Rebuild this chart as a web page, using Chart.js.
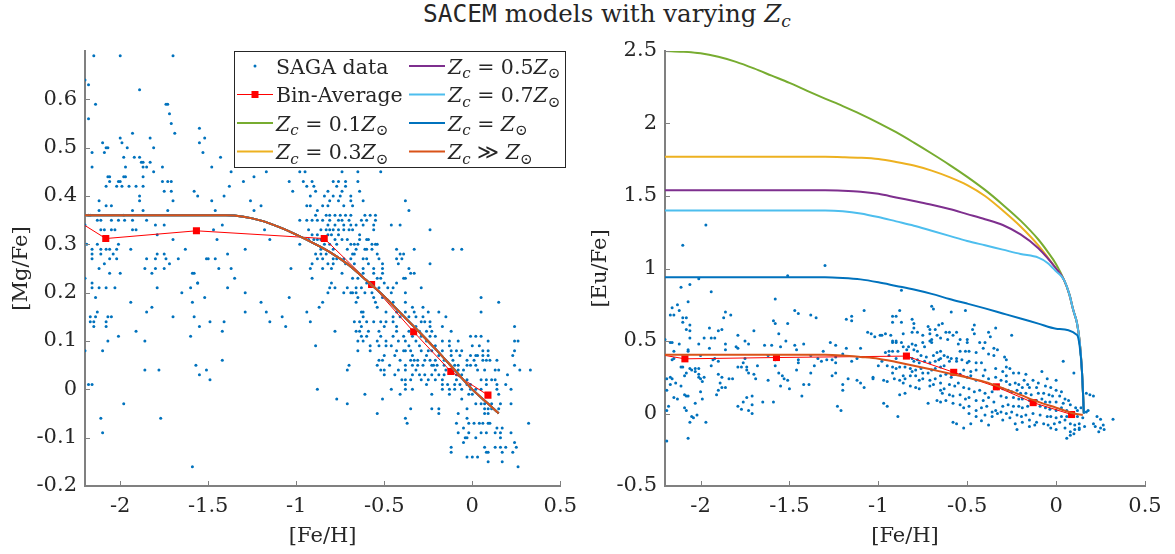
<!DOCTYPE html>
<html>
<head>
<meta charset="utf-8">
<script src="https://cdn.jsdelivr.net/npm/chart.js@4.4.0/dist/chart.umd.min.js"></script>
<style>
  html, body { margin: 0; padding: 0; background: #fff; }
  #wrap { position: relative; width: 1175px; height: 554px; overflow: hidden; }
  #mg { position: absolute; left: 0; top: 0; }
  #eu { position: absolute; left: 585px; top: 0; }
  #title { position: absolute; top: -1px; left: 607px; transform: translateX(-50%); white-space: nowrap;
           font: 24.5px 'DejaVu Serif', 'Liberation Serif', serif; color: #262626; line-height: 30px; }
  #title .tt { font-family: 'DejaVu Sans Mono', 'Liberation Mono', monospace; font-size: 24.5px; }
  #title sub { font-size: 17px; line-height: 0; vertical-align: -5px; }
</style>
</head>
<body>
<div id="wrap">
  <div id="title"><span class="tt">SACEM</span> models with varying <i>Z<sub>c</sub></i></div>
  <canvas id="mg" width="585" height="554"></canvas>
  <canvas id="eu" width="590" height="554"></canvas>
</div>
<script>
/* ---------- data ---------- */
const feTicks = [-2, -1.5, -1, -0.5, 0, 0.5];
const mgTicks = [-0.2, -0.1, 0, 0.1, 0.2, 0.3, 0.4, 0.5, 0.6];
const euTicks = [-0.5, 0, 0.5, 1, 1.5, 2, 2.5];

// SAGA stars, [Mg/Fe] panel: metal-poor side as [Fe/H, Mg/Fe] pairs
const mgSparse = [
  [-2.15,.69],[-2.0,.69],[-1.70,.69],[-2.20,.64],[-2.18,.63],[-2.18,.56],[-2.14,.59],[-1.89,.62],[-1.74,.59],[-1.73,.59],
  [-1.72,.57],[-1.71,.55],[-1.69,.53],[-2.16,.49],[-2.16,.46],[-2.10,.51],[-2.09,.49],[-2.08,.50],[-2.07,.50],[-2.00,.52],
  [-1.99,.51],[-1.96,.50],[-1.98,.48],[-1.97,.46],[-1.93,.53],[-1.92,.48],[-1.89,.48],[-1.88,.47],[-1.87,.47],[-1.85,.46],
  [-1.87,.46],[-1.83,.47],[-1.83,.52],[-1.81,.50],[-1.81,.45],[-1.76,.46],[-1.55,.54],[-1.52,.52],[-1.55,.51],[-1.53,.49],
  [-1.43,.48],[-1.48,.46],[-1.37,.45],[-1.17,.45],
  [-2.12,.39],[-2.08,.38],[-2.05,.38],[-2.08,.42],[-2.06,.43],[-2.06,.44],[-2.07,.44],[-2.01,.43],[-2.00,.43],[-1.98,.44],
  [-1.97,.44],[-2.02,.42],[-1.99,.42],[-1.95,.42],[-1.91,.42],[-1.89,.40],[-1.89,.39],[-1.87,.42],[-1.87,.44],[-1.93,.37],
  [-1.87,.37],[-1.76,.43],[-1.73,.43],[-1.71,.41],[-1.75,.41],[-1.71,.43],[-1.70,.39],[-1.73,.37],[-1.58,.41],[-1.56,.40],
  [-1.48,.39],[-1.46,.37],[-1.41,.40],[-1.38,.42],[-1.30,.43],[-1.26,.39],[-1.24,.44],[-1.20,.38],[-1.24,.37],[-1.04,.43],
  [-1.02,.41],
  [-2.17,.36],[-2.12,.37],[-2.13,.35],[-2.11,.35],[-2.11,.33],[-2.09,.33],[-2.05,.35],[-2.05,.33],[-2.03,.33],[-2.01,.35],
  [-1.98,.36],[-1.975,.35],[-1.93,.35],[-1.93,.33],[-1.85,.35],[-1.91,.33],[-1.80,.34],[-1.79,.32],[-1.75,.34],[-1.70,.31],
  [-1.63,.29],[-1.47,.33],[-1.45,.31],[-1.42,.34],[-1.29,.29],[-1.18,.33],[-1.15,.31],
  [-2.19,.30],[-2.16,.29],[-2.16,.28],[-2.16,.27],[-2.13,.30],[-2.11,.29],[-2.11,.28],[-2.08,.29],[-2.09,.26],[-2.06,.29],
  [-2.04,.28],[-2.06,.27],[-2.02,.29],[-2.01,.30],[-2.02,.27],[-2.06,.24],[-2.12,.25],[-2.00,.24],[-1.94,.29],[-1.86,.25],
  [-1.85,.27],[-1.82,.24],[-1.80,.27],[-1.79,.28],[-1.75,.28],[-1.74,.27],[-1.72,.26],[-1.75,.25],[-1.80,.25],[-1.67,.27],
  [-1.59,.24],[-1.58,.24],[-1.56,.22],[-1.51,.27],[-1.50,.27],[-1.46,.27],[-1.44,.25],[-1.39,.28],[-1.37,.25],[-1.35,.23],
  [-1.39,.21],[-1.29,.20],[-1.03,.25],[-2.20,.34],[-2.18,.36],
  [-2.20,.23],[-2.16,.22],[-2.16,.21],[-2.14,.19],[-2.12,.21],[-2.08,.21],[-2.03,.21],[-2.17,.15],[-2.15,.14],[-2.14,.15],
  [-2.17,.14],[-2.15,.13],[-2.08,.14],[-2.08,.13],[-2.07,.15],[-2.05,.15],[-2.13,.16],[-2.07,.10],[-2.10,.08],[-2.01,.11],
  [-1.94,.18],[-1.91,.12],[-1.85,.16],[-1.82,.17],[-1.86,.10],[-1.79,.21],[-1.86,.04],[-1.78,.04],[-1.70,.15],[-1.65,.20],
  [-1.60,.21],[-1.59,.18],[-1.58,.15],[-1.55,.13],[-1.56,.22],[-1.52,.19],[-1.49,.14],[-1.41,.14],[-1.42,.12],[-1.60,.11],
  [-1.57,.05],[-1.55,.03],[-1.51,.04],[-1.49,.02],[-1.42,.06],[-2.18,.01],[-2.16,.01],[-2.20,.08],[-2.11,-.06],[-2.10,-.09],
  [-1.98,-.03],[-1.77,-.06],[-1.59,-.16],[-1.20,.18],[-1.15,.14],[-1.17,.16],[-1.08,.15],[-1.06,.13],[-1.29,.16],[-1.04,.19],
  [-0.37,-.07]
];

// SAGA stars, [Mg/Fe] panel: the dense disc part, [Mg/Fe] comes in 0.01 steps -> rows of [Fe/H]
const mgRows = [
  [0.45,[-0.98,-0.95,-0.74,-0.65,-0.52]],
  [0.43,[-0.96,-0.91,-0.79,-0.76,-0.72,-0.65]],
  [0.42,[-0.94,-0.90,-0.77,-0.72]],
  [0.41,[-0.89,-0.82,-0.74,-0.64]],
  [0.40,[-0.92,-0.84,-0.79,-0.75,-0.69]],
  [0.39,[-0.81,-0.76,-0.69,-0.62,-0.38]],
  [0.38,[-0.94,-0.92,-0.85,-0.82,-0.73,-0.68]],
  [0.37,[-0.88,-0.36]],
  [0.36,[-0.89,-0.83,-0.81,-0.78,-0.75,-0.72,-0.69,-0.61,-0.58,-0.55]],
  [0.35,[-0.98,-0.94,-0.91,-0.88,-0.85,-0.81,-0.76,-0.74,-0.70,-0.63,-0.60,-0.55]],
  [0.34,[-0.82,-0.78,-0.73,-0.69,-0.66,-0.62,-0.56,-0.46,-0.41]],
  [0.33,[-0.93,-0.86,-0.83,-0.81,-0.79,-0.76,-0.73,-0.70,-0.68,-0.56,-0.24]],
  [0.32,[-0.91,-0.88,-0.82,-0.80,-0.76,-0.64]],
  [0.31,[-0.93,-0.90,-0.88,-0.86,-0.78,-0.74,-0.71,-0.64,-0.60,-0.59]],
  [0.30,[-0.98,-0.84,-0.81,-0.77,-0.69,-0.67,-0.65,-0.57,-0.55,-0.54]],
  [0.29,[-0.86,-0.79,-0.71,-0.66,-0.61,-0.60,-0.57,-0.43,-0.33,-0.11,-0.06]],
  [0.28,[-0.89,-0.86,-0.83,-0.68,-0.67,-0.54,-0.41,-0.39]],
  [0.27,[-0.88,-0.85,-0.79,-0.77,-0.73,-0.69,-0.62,-0.60,-0.53,-0.43,-0.40]],
  [0.26,[-0.91,-0.82,-0.79,-0.72,-0.67,-0.59,-0.51,-0.42,-0.24]],
  [0.25,[-0.92,-0.85,-0.80,-0.62,-0.56,-0.51,-0.36]],
  [0.24,[-0.74,-0.62,-0.56,-0.51,-0.35,-0.33]],
  [0.23,[-0.91,-0.68,-0.65,-0.54,-0.52,-0.39,-0.38]],
  [0.22,[-0.80,-0.60,-0.56,-0.50,-0.43]],
  [0.21,[-0.81,-0.78,-0.71,-0.66,-0.63,-0.53,-0.48,-0.45,-0.29]],
  [0.20,[-0.82,-0.73,-0.69,-0.68,-0.66,-0.61,-0.57,-0.46,-0.38]],
  [0.19,[-0.65,-0.56,-0.51,0.05]],
  [0.18,[-0.85,-0.66,-0.55,-0.45,-0.38,0.15]],
  [0.17,[-0.87,-0.54,-0.34,-0.28]],
  [0.16,[-0.94,-0.63,-0.62,-0.49,-0.43,-0.38,-0.33,-0.25,-0.19,0.05]],
  [0.15,[-0.62,-0.45,-0.41,-0.36,-0.32,-0.28,-0.15]],
  [0.14,[-0.92,-0.67,-0.64,-0.60,-0.56,-0.52,-0.49,-0.45,-0.29,-0.27,-0.24]],
  [0.13,[-0.63,-0.50,-0.43,-0.32,-0.24,-0.17,0.24]],
  [0.12,[-0.78,-0.66,-0.64,-0.59,-0.53,-0.43,-0.36,-0.30,-0.26,-0.23,-0.12]],
  [0.11,[-0.63,-0.60,-0.52,-0.45,-0.39,-0.34,-0.29,-0.24,-0.21,-0.01,0.02,0.05]],
  [0.10,[-0.65,-0.62,-0.54,-0.49,-0.42,-0.38,-0.32,-0.26,-0.17,-0.13,-0.08,0.09,0.24,0.26]],
  [0.09,[-0.89,-0.58,-0.53,-0.49,-0.46,-0.36,-0.30,-0.21,-0.13,0.0,0.04]],
  [0.08,[-0.65,-0.58,-0.43,-0.39,-0.38,-0.35,-0.29,-0.25,-0.23,-0.17,-0.12,-0.09,-0.06,0.06,0.09,0.24]],
  [0.07,[-0.50,-0.44,-0.34,-0.26,-0.19,-0.12,-0.07,-0.01,0.02,0.03,0.06,0.09,0.23]],
  [0.06,[-0.53,-0.51,-0.41,-0.35,-0.33,-0.31,-0.27,-0.24,-0.21,-0.16,-0.11,-0.03,0.01,0.06,0.08,0.10,0.14]],
  [0.05,[-0.70,-0.54,-0.47,-0.38,-0.34,-0.31,-0.28,-0.23,-0.22,-0.20,-0.16,-0.10,-0.08,-0.03,-0.01,0.02,0.24]],
  [0.04,[-0.71,-0.52,-0.50,-0.42,-0.38,-0.32,-0.21,-0.15,-0.10,-0.08,-0.05,0.03,0.07,0.13,0.15,0.27,0.33]],
  [0.03,[-0.50,-0.44,-0.34,-0.30,-0.27,-0.23,-0.19,-0.16,-0.09,-0.06,0.20]],
  [0.02,[-0.40,-0.38,-0.35,-0.29,-0.25,-0.21,-0.17,-0.09,-0.03,0.05,0.08,0.11,0.13]],
  [0.01,[-0.38,-0.26,-0.17,-0.14,-0.10,-0.07,-0.03,-0.01,0.08,0.14,0.19]],
  [0.00,[-0.88,-0.46,-0.38,-0.34,-0.17,-0.13,-0.10,-0.06,-0.01,0.02,0.05,0.14,0.22]],
  [-0.01,[-0.61,-0.41,-0.23,-0.13,-0.02,0.0,0.15]],
  [-0.02,[-0.77,-0.51,-0.06]],
  [-0.03,[-0.71,0.02,0.05,0.07,0.11,0.16,0.22]],
  [-0.04,[-0.35,-0.23,-0.19,-0.03,0.07,0.09,0.11,0.15]],
  [-0.05,[-0.54,-0.19,-0.08,0.07,0.09]],
  [-0.06,[-0.38,-0.03]],
  [-0.07,[-0.09,-0.02,0.01,0.04,0.06,0.09,0.10,0.32]],
  [-0.08,[-0.05,0.14,0.17]],
  [-0.09,[-0.08,-0.02,0.05,0.08,0.13,0.16,0.22]],
  [-0.10,[-0.04,-0.03,0.02,0.16]],
  [-0.11,[-0.05,0.24]],
  [-0.12,[-0.12,0.07,0.13,0.16,0.19,0.25]],
  [-0.13,[-0.12,0.08,0.09,0.17,0.23]],
  [-0.14,[-0.03,0.0,0.03]],
  [-0.15,[0.09,0.17]],
  [-0.16,[0.26]]
];

// SAGA stars, [Eu/Fe] panel, [Fe/H, Eu/Fe] pairs
const euStars = [
  [-1.30,1.02],[-1.51,0.95],[-2.01,0.93],[-2.06,0.89],[-2.11,0.87],[-1.94,0.84],[-2.07,0.77],[-1.58,0.79],[-2.16,0.73],[-2.13,0.75],
  [-2.12,0.71],[-2.17,0.68],[-2.15,0.68],[-2.10,0.66],[-2.08,0.66],[-2.10,0.63],[-2.06,0.61],[-2.08,0.58],[-2.06,0.57],[-2.06,0.52],
  [-2.20,0.51],[-2.17,0.49],[-2.16,0.49],[-1.95,0.59],[-1.86,0.70],[-1.87,0.66],[-1.83,0.68],[-1.88,0.58],[-1.90,0.57],[-1.92,0.52],
  [-1.94,0.52],[-1.98,0.52],[-2.01,0.48],[-2.12,0.48],[-2.15,0.43],[-2.07,0.44],[-2.07,0.43],[-1.95,0.45],[-1.86,0.48],[-1.86,0.44],
  [-1.80,0.46],[-1.79,0.45],[-1.79,0.54],[-1.75,0.50],[-1.73,0.48],[-1.70,0.57],[-1.64,0.47],[-1.60,0.47],[-1.55,0.46],[-1.52,0.50],
  [-1.59,0.64],[-1.56,0.55],[-1.58,0.62],[-1.51,0.62],[-1.47,0.71],[-1.45,0.69],[-1.47,0.47],[-1.46,0.44],[-1.42,0.48],[-1.38,0.68],
  [-1.35,0.66],[-1.31,0.43],[-1.27,0.49],[-1.24,0.47],[-1.24,0.39],[-1.18,0.65],[-1.15,0.67],[-1.15,0.64],[-1.18,0.45],[-1.10,0.45],
  [-1.08,0.71],[-1.06,0.56],[-1.04,0.55],[-1.02,0.53],[-1.00,0.33],[-1.12,0.38],[-2.10,1.16],[-1.97,1.30],
  [-2.15,0.38],[-2.00,0.40],[-1.90,0.36],[-1.75,0.38],[-1.62,0.40],[-1.45,0.37],[-1.38,0.40],[-1.20,0.41],[-1.15,0.36],
  [-2.21,0.39],[-2.16,0.37],[-2.11,0.32],[-2.19,0.24],[-2.16,0.24],[-2.17,0.25],[-2.17,0.20],[-2.14,0.21],[-2.19,0.16],[-2.21,0.13],
  [-2.21,0.10],[-2.18,0.05],[-2.19,0.02],[-2.19,-0.19],[-2.15,0.11],[-2.13,0.10],[-2.11,0.19],[-2.09,0.26],[-2.08,0.28],[-2.06,0.31],
  [-2.05,0.30],[-2.03,0.31],[-2.10,0.32],[-2.09,0.13],[-2.08,0.12],[-2.09,0.04],[-2.08,0.02],[-2.07,0.12],[-2.03,0.29],[-2.01,0.31],
  [-2.01,0.27],[-2.01,0.25],[-2.00,0.24],[-1.98,0.25],[-1.99,0.22],[-2.03,0.07],[-2.05,-0.02],[-2.06,-0.06],[-2.04,-0.03],[-2.02,-0.01],
  [-2.07,-0.17],[-1.97,-0.06],[-2.00,0.15],[-1.99,0.10],[-1.94,0.33],[-1.93,0.37],[-1.92,0.38],[-1.90,0.27],[-1.89,0.21],[-1.88,0.18],
  [-1.86,0.18],[-1.90,0.16],[-1.91,0.13],[-1.88,0.25],[-1.84,0.24],[-1.82,0.24],[-1.79,0.32],[-1.77,0.32],[-1.76,0.35],[-1.74,0.30],
  [-1.74,0.32],[-1.73,0.28],[-1.70,0.27],[-1.69,0.24],[-1.71,0.12],[-1.71,0.06],[-1.74,0.11],[-1.77,0.03],[-1.79,0.05],[-1.76,0.08],
  [-1.73,0.02],[-1.71,0.00],[-1.68,0.33],[-1.65,0.08],[-1.62,0.23],[-1.59,0.08],[-1.58,0.33],[-1.58,0.37],[-1.56,0.28],[-1.55,0.19],
  [-1.54,0.26],[-1.53,0.24],[-1.51,0.23],[-1.50,0.17],[-1.46,0.30],[-1.45,0.35],[-1.43,0.12],[-1.42,0.20],[-1.39,0.20],[-1.38,0.28],
  [-1.36,0.33],[-1.34,0.38],[-1.32,0.36],[-1.29,0.37],[-1.26,0.37],[-1.24,0.35],[-1.26,0.26],[-1.24,0.28],[-1.20,0.20],[-1.20,0.16],
  [-1.17,0.24],[-1.23,0.05],[-1.21,0.02],[-1.12,0.23],[-1.10,0.21],[-1.08,0.18],[-1.03,0.25],[-1.03,0.24],
  [-0.87,0.85],[-0.70,0.74],[-0.69,0.72],[-0.59,0.70],[-0.51,0.71],[-0.88,0.71],[-0.92,0.67],[-0.90,0.67],[-0.92,0.63],[-0.87,0.63],
  [-0.81,0.65],[-0.80,0.62],[-0.80,0.59],[-0.66,0.61],[-0.68,0.58],[-0.64,0.62],[-0.72,0.60],[-0.71,0.58],[-0.46,0.61],[-0.47,0.58],
  [-0.34,0.59],[-0.78,0.56],[-0.75,0.54],[-0.81,0.56],[-0.71,0.55],[-0.67,0.54],[-0.62,0.56],[-0.60,0.56],[-0.56,0.56],[-0.46,0.55],
  [-0.38,0.56],[-0.37,0.53],[-0.99,0.54],[-0.98,0.54],[-0.96,0.55],[-0.93,0.54],[-0.86,0.55],[-0.92,0.50],[-0.90,0.49],[-0.90,0.50],
  [-0.92,0.49],[-0.87,0.49],[-0.86,0.46],[-0.84,0.44],[-0.83,0.46],[-0.80,0.44],[-0.81,0.48],[-0.75,0.49],[-0.74,0.46],[-0.71,0.50],
  [-0.70,0.49],[-0.70,0.51],[-0.65,0.52],[-0.61,0.51],[-0.58,0.54],[-0.54,0.51],[-0.50,0.51],[-0.50,0.49],[-0.55,0.48],[-0.43,0.49],
  [-0.40,0.49],[-0.35,0.45],[-0.96,0.42],[-0.94,0.40],[-0.94,0.43],[-0.92,0.43],[-0.89,0.43],[-0.90,0.38],[-0.79,0.47],[-0.78,0.43],
  [-0.76,0.40],[-0.73,0.39],[-0.69,0.40],[-0.65,0.43],[-0.67,0.42],[-0.63,0.40],[-0.61,0.39],[-0.59,0.38],[-0.56,0.38],[-0.54,0.43],
  [-0.51,0.43],[-0.49,0.43],[-0.45,0.42],[-0.41,0.45],[-0.38,0.41],[-0.35,0.40],[-0.33,0.44],[-0.81,0.38],[-0.80,0.36],[-0.78,0.37],
  [-0.77,0.35],[-0.74,0.36],[-0.71,0.35],[-0.68,0.36],[-0.66,0.37],[-0.65,0.38],[-0.60,0.36],[-0.56,0.36],[-0.53,0.37],[-0.50,0.35],
  [-0.49,0.36],[-0.45,0.35],[-0.42,0.35],[-0.98,0.36],[-0.95,0.33],[-0.92,0.32],[-0.90,0.31],[-0.88,0.32],[-0.85,0.32],[-0.82,0.31],
  [-0.81,0.29],[-0.79,0.30],[-0.76,0.31],[-0.75,0.28],[-0.72,0.28],[-0.70,0.30],[-0.68,0.31],[-0.65,0.32],[-0.63,0.33],[-0.52,0.30],
  [-0.48,0.29],[-0.45,0.30],[-0.40,0.30],[-0.34,0.31],[-0.97,0.23],[-0.95,0.22],[-0.92,0.28],[-0.91,0.24],[-0.88,0.23],[-0.86,0.26],
  [-0.85,0.24],[-0.82,0.26],[-0.79,0.26],[-0.77,0.23],[-0.75,0.24],[-0.71,0.23],[-0.68,0.24],[-0.65,0.26],[-0.62,0.27],[-0.59,0.25],
  [-0.54,0.27],[-0.50,0.25],[-0.48,0.26],[-0.45,0.23],[-0.41,0.26],[-0.38,0.24],[-0.34,0.25],[-0.86,0.21],[-0.82,0.19],[-0.79,0.18],
  [-0.77,0.17],[-0.71,0.19],[-0.69,0.20],[-0.65,0.21],[-0.63,0.17],[-0.60,0.20],[-0.57,0.19],[-0.55,0.21],[-0.52,0.18],[-0.49,0.17],
  [-0.46,0.15],[-0.43,0.16],[-0.40,0.14],[-0.36,0.15],[-0.33,0.17],[-0.88,0.13],[-0.85,0.14],[-0.65,0.16],[-0.64,0.14],[-0.60,0.13],
  [-0.58,0.12],[-0.54,0.13],[-0.51,0.10],[-0.49,0.11],[-0.45,0.09],[-0.41,0.09],[-0.38,0.11],[-0.35,0.08],[-0.97,0.07],[-0.95,0.05],
  [-0.72,0.07],[-0.67,0.09],[-0.65,0.08],[-0.62,0.09],[-0.58,0.07],[-0.54,0.06],[-0.52,0.04],[-0.49,0.05],[-0.45,0.02],[-0.42,0.04],
  [-0.39,0.05],[-0.36,0.01],[-0.34,0.02],[-0.89,-0.02],[-0.49,0.00],[-0.45,-0.02],[-0.40,-0.01],[-0.36,-0.02],[-0.33,0.00],[-0.58,-0.06],
  [-0.56,-0.07],[-0.52,-0.10],[-0.48,-0.07],[-0.42,-0.05],[-0.38,-0.08],
  [-0.25,0.54],[-0.29,0.39],[-0.28,0.37],[-0.28,0.32],[0.04,0.36],[0.10,0.28],[-0.08,0.29],[-0.30,0.29],[-0.28,0.26],[-0.26,0.31],
  [-0.24,0.28],[-0.21,0.28],[-0.17,0.27],[-0.18,0.23],[-0.13,0.23],[-0.16,0.20],[-0.10,0.21],[-0.05,0.24],[0.00,0.23],[-0.31,0.23],
  [-0.28,0.22],[-0.26,0.20],[-0.23,0.21],[-0.21,0.20],[-0.19,0.18],[-0.15,0.18],[-0.11,0.18],[-0.06,0.19],[-0.03,0.18],[0.00,0.16],
  [0.03,0.15],[-0.30,0.17],[-0.27,0.16],[-0.25,0.15],[-0.22,0.16],[-0.20,0.14],[-0.17,0.14],[-0.14,0.13],[-0.10,0.14],[-0.07,0.14],
  [-0.04,0.13],[-0.02,0.12],[0.02,0.12],[0.05,0.10],[0.07,0.09],[-0.31,0.12],[-0.28,0.11],[-0.24,0.11],[-0.21,0.10],[-0.19,0.10],
  [-0.15,0.09],[-0.11,0.09],[-0.08,0.10],[-0.06,0.08],[-0.035,0.08],[0.00,0.08],[0.04,0.07],[0.08,0.06],[0.11,0.04],[-0.30,0.05],
  [-0.27,0.06],[-0.24,0.05],[-0.21,0.05],[-0.19,0.04],[-0.16,0.05],[-0.09,0.05],[-0.06,0.04],[-0.035,0.03],[0.00,0.02],[0.03,0.04],
  [0.06,0.02],[0.12,0.02],[0.14,0.04],[0.17,0.01],[0.19,0.13],[0.21,0.12],[-0.31,0.01],[-0.28,0.00],[-0.25,0.01],[-0.22,-0.01],
  [-0.195,-0.02],[-0.17,-0.01],[-0.13,0.00],[-0.09,-0.01],[-0.05,-0.02],[-0.03,-0.02],[0.00,-0.03],[0.03,-0.02],[0.06,-0.02],[0.12,-0.02],
  [0.15,-0.03],[0.18,0.02],[-0.30,-0.045],[-0.26,-0.03],[-0.23,-0.07],[-0.19,-0.06],[-0.15,-0.045],[-0.11,-0.06],[-0.07,-0.07],[-0.045,-0.08],
  [-0.01,-0.07],[0.02,-0.06],[0.05,-0.045],[0.08,-0.07],[0.105,-0.08],[0.13,-0.07],[0.16,-0.09],[-0.22,-0.11],[-0.15,-0.09],[-0.12,-0.08],
  [-0.03,-0.10],[0.00,-0.11],[0.05,-0.10],[0.08,-0.125],[0.105,-0.11],[0.13,-0.10],[0.06,-0.17],[0.08,-0.15],[0.10,-0.14],[0.13,-0.11],
  [0.21,-0.07],[0.22,-0.09],[0.24,-0.125],[0.25,-0.10],[0.23,-0.02],[0.25,-0.04],[0.265,-0.08],[0.32,-0.04],[0.27,-0.11],[0.17,0.14]
];

// bin averages (first bin centre sits left of the plotted range)
const binFeMg = [-2.6, -2.082, -1.567, -0.841, -0.572, -0.333, -0.122, 0.089];
const binMg   = [0.43, 0.312, 0.328, 0.312, 0.217, 0.119, 0.037, -0.012];
const binFeEu = [-2.6, -2.088, -1.573, -0.842, -0.576, -0.336, -0.129, 0.087];
const binEu   = [0.484, 0.377, 0.386, 0.396, 0.284, 0.184, 0.075, -0.007];

// [Mg/Fe] model track (identical for every Z_c)
const mgModelFe = [-2.2, -1.4, -1.3, -1.2, -1.1, -1.0, -0.9, -0.8, -0.7, -0.6, -0.5, -0.4, -0.3, -0.2, -0.1, 0.0, 0.1, 0.15];
const mgModel   = [0.36, 0.36, 0.357, 0.349, 0.336, 0.32, 0.302, 0.282, 0.257, 0.225, 0.192, 0.155, 0.118, 0.08, 0.04, 0.0, -0.033, -0.05];

// [Eu/Fe] model tracks
const euTail = [[0.075,0.82],[0.096,0.715],[0.118,0.62],[0.133,0.49],[0.145,0.30],[0.152,0.12],[0.156,0.0]];
const eu01 = [[-2.2,2.50],[-2.1,2.495],[-2.0,2.484],[-1.9,2.46],[-1.8,2.425],[-1.7,2.38],[-1.6,2.33],[-1.5,2.28],[-1.4,2.225],
              [-1.3,2.172],[-1.2,2.12],[-1.1,2.065],[-1.0,2.005],[-0.9,1.94],[-0.8,1.868],[-0.7,1.793],[-0.6,1.715],[-0.5,1.632],
              [-0.4,1.542],[-0.3,1.44],[-0.2,1.33],[-0.1,1.2],[-0.05,1.12],[0.0,1.03],[0.045,0.92]];
const eu03 = [[-2.2,1.77],[-1.3,1.77],[-1.2,1.768],[-1.1,1.764],[-1.0,1.755],[-0.9,1.735],[-0.8,1.71],[-0.7,1.675],[-0.6,1.63],
              [-0.5,1.575],[-0.4,1.50],[-0.3,1.40],[-0.2,1.29],[-0.1,1.16],[0.0,1.0],[0.045,0.92]];
const eu05 = [[-2.2,1.54],[-1.3,1.54],[-1.2,1.537],[-1.1,1.53],[-1.0,1.515],[-0.9,1.49],[-0.8,1.465],[-0.7,1.44],[-0.6,1.41],
              [-0.5,1.375],[-0.4,1.34],[-0.3,1.30],[-0.2,1.235],[-0.1,1.14],[0.0,1.0],[0.045,0.92]];
const eu07 = [[-2.2,1.40],[-1.3,1.40],[-1.2,1.395],[-1.1,1.38],[-1.0,1.355],[-0.9,1.325],[-0.8,1.295],[-0.7,1.26],[-0.6,1.225],
              [-0.5,1.19],[-0.4,1.16],[-0.3,1.13],[-0.2,1.10],[-0.1,1.075],[-0.05,1.04],[0.0,0.98],[0.045,0.92]];
const eu10 = [[-2.2,0.94],[-1.3,0.94],[-1.2,0.935],[-1.1,0.925],[-1.0,0.905],[-0.9,0.88],[-0.8,0.855],[-0.7,0.825],[-0.6,0.79],
              [-0.5,0.758],[-0.4,0.725],[-0.3,0.69],[-0.2,0.655],[-0.1,0.62],[0.0,0.585],[0.118,0.542],[0.133,0.46],
              [0.145,0.30],[0.152,0.12],[0.156,0.0]];
const euInf = [[-2.2,0.405],[-1.3,0.405],[-1.2,0.40],[-1.1,0.39],[-1.0,0.378],[-0.9,0.355],[-0.8,0.33],[-0.7,0.303],[-0.6,0.276],
               [-0.5,0.248],[-0.4,0.218],[-0.3,0.175],[-0.2,0.128],[-0.1,0.08],[0.0,0.04],[0.1,0.0],[0.15,-0.01]];

/* ---------- styling ---------- */
const AXIS = '#808080', INK = '#262626';
const SERIF = "'DejaVu Serif', 'Liberation Serif', serif";
const COL = { saga:'#0072BD', bin:'#FF0000', z01:'#77AC30', z03:'#EDB120', z05:'#7E2F8E',
              z07:'#4DBEEE', z10:'#0072BD', zinf:'#D95319' };

Chart.defaults.font.family = SERIF;
Chart.defaults.font.size = 21;
Chart.defaults.color = INK;

const xy = a => a.map(([x, y]) => ({x, y}));
const zipXY = (xs, ys) => xs.map((x, i) => ({x, y: ys[i]}));

const sagaSet = pts => ({ label:'SAGA data', data: pts, showLine:false, pointRadius:1.5, pointHoverRadius:0,
  pointBackgroundColor: COL.saga, pointBorderWidth:0, order:10 });
const binSet = pts => ({ label:'Bin-Average', data: pts, showLine:true, borderColor: COL.bin, borderWidth:1,
  pointStyle:'rect', pointRadius:5, pointBackgroundColor: COL.bin, pointBorderWidth:0, order:9 });
const modelSet = (label, color, pts, order) => ({ label, data: pts, showLine:true, borderColor: color,
  borderWidth:2, pointRadius:0, cubicInterpolationMode:'monotone', order });

/* MATLAB style: tick marks point into the axes */
const innerTicks = {
  id: 'innerTicks',
  afterDraw(chart) {
    const {ctx, chartArea: a, scales: {x, y}} = chart;
    ctx.save();
    ctx.strokeStyle = AXIS; ctx.lineWidth = 1;
    ctx.beginPath();
    x.ticks.forEach(t => { const p = Math.round(x.getPixelForValue(t.value)) + 0.5;
      ctx.moveTo(p, a.bottom); ctx.lineTo(p, a.bottom - 5); });
    y.ticks.forEach(t => { const p = Math.round(y.getPixelForValue(t.value)) + 0.5;
      ctx.moveTo(a.left, p); ctx.lineTo(a.left + 5, p); });
    ctx.stroke();
    ctx.restore();
  }
};

// draw "Z_c = 0.5 Z_sun" style labels piece by piece
function drawParts(ctx, x, y, parts, size) {
  for (const [txt, st] of parts) {
    const sub = st.includes('s'), it = st.includes('i');
    const fs = sub ? Math.round(size * 0.72) : size;
    ctx.font = `${it ? 'italic ' : ''}${fs}px ${SERIF}`;
    ctx.fillText(txt, x, y + (sub ? size * 0.24 : 0));
    x += ctx.measureText(txt).width;
  }
}
const zc = rest => [['Z','i'], ['c','si'], [rest,'r'], ['Z','i'], ['\u2299','s']];

const legendItems = [
  { col:0, row:0, kind:'dot',  color: COL.saga, parts:[['SAGA data','r']] },
  { col:0, row:1, kind:'bin',  color: COL.bin,  parts:[['Bin-Average','r']] },
  { col:0, row:2, kind:'line', color: COL.z01,  parts: zc(' = 0.1') },
  { col:0, row:3, kind:'line', color: COL.z03,  parts: zc(' = 0.3') },
  { col:1, row:0, kind:'line', color: COL.z05,  parts: zc(' = 0.5') },
  { col:1, row:1, kind:'line', color: COL.z07,  parts: zc(' = 0.7') },
  { col:1, row:2, kind:'line', color: COL.z10,  parts: zc(' = ') },
  { col:1, row:3, kind:'line', color: COL.zinf, parts: zc(' \u226B ') },
];

const mathLegend = {
  id: 'mathLegend',
  afterDraw(chart) {
    const ctx = chart.ctx;
    const box = {l:234.5, t:51.5, r:565.5, b:167.5};
    const rowY = [66, 94.5, 123, 151.5], colX = [237, 409];
    ctx.save();
    ctx.fillStyle = '#fff';
    ctx.fillRect(box.l, box.t, box.r - box.l, box.b - box.t);
    ctx.strokeStyle = INK; ctx.lineWidth = 1;
    ctx.strokeRect(box.l, box.t, box.r - box.l, box.b - box.t);
    legendItems.forEach(it => {
      const x0 = colX[it.col], y0 = rowY[it.row];
      if (it.kind === 'dot') {
        ctx.fillStyle = it.color;
        ctx.beginPath(); ctx.arc(x0 + 18, y0, 1.5, 0, 2 * Math.PI); ctx.fill();
      } else {
        ctx.strokeStyle = it.color; ctx.lineWidth = it.kind === 'bin' ? 1 : 2;
        ctx.beginPath(); ctx.moveTo(x0, y0); ctx.lineTo(x0 + 36, y0); ctx.stroke();
        if (it.kind === 'bin') { ctx.fillStyle = it.color; ctx.fillRect(x0 + 14.5, y0 - 3.5, 7, 7); }
      }
      ctx.fillStyle = INK;
      ctx.textBaseline = 'alphabetic';
      drawParts(ctx, x0 + 39, y0 + 7.5, it.parts, 20.5);
    });
    ctx.restore();
  }
};

function scales(yMin, yMax, yTicks, yTitle, yWidth, yTitlePad) {
  const common = {
    type: 'linear',
    grid: { display:false, drawTicks:false },
    border: { display:true, color: AXIS, width: 2 },
  };
  return {
    x: { ...common, min: -2.2, max: 0.5,
      afterBuildTicks: s => { s.ticks = feTicks.map(v => ({value: v})); },
      afterFit: s => { s.height = 68; },
      ticks: { padding: 8, autoSkip:false, maxRotation:0, callback: v => String(v) },
      title: { display:true, text:'[Fe/H]', padding:{top:0, bottom:5} } },
    y: { ...common, min: yMin, max: yMax,
      afterBuildTicks: s => { s.ticks = yTicks.map(v => ({value: v})); },
      afterFit: s => { s.width = yWidth; },
      ticks: { padding: 8, autoSkip:false, callback: v => String(v) },
      title: { display:true, text: yTitle, padding:{top: yTitlePad, bottom:0} } }
  };
}

const baseOpts = (pad, sc) => ({
  responsive:false, animation:false, events:[],
  layout: { padding: pad },
  plugins: { legend:{display:false}, tooltip:{enabled:false} },
  scales: sc
});

/* ---------- [Mg/Fe] panel ---------- */
const mgStars = xy(mgSparse).concat(mgRows.flatMap(([mg, fes]) => fes.map(fe => ({x: fe, y: mg}))));
const mgTrack = zipXY(mgModelFe, mgModel);
new Chart(document.getElementById('mg'), {
  type: 'scatter',
  data: { datasets: [
    sagaSet(mgStars),
    binSet(zipXY(binFeMg, binMg)),
    modelSet('Zc = 0.1 Zsun', COL.z01, mgTrack, 6),
    modelSet('Zc = 0.3 Zsun', COL.z03, mgTrack, 5),
    modelSet('Zc = 0.5 Zsun', COL.z05, mgTrack, 4),
    modelSet('Zc = 0.7 Zsun', COL.z07, mgTrack, 3),
    modelSet('Zc = Zsun',     COL.z10, mgTrack, 2),
    modelSet('Zc >> Zsun',    COL.zinf, mgTrack, 1),
  ]},
  options: baseOpts({top:51, right:19, left:0, bottom:0}, scales(-0.2, 0.7, mgTicks, '[Mg/Fe]', 85, 9)),
  plugins: [innerTicks, mathLegend]
});

/* ---------- [Eu/Fe] panel ---------- */
new Chart(document.getElementById('eu'), {
  type: 'scatter',
  data: { datasets: [
    sagaSet(xy(euStars)),
    binSet(zipXY(binFeEu, binEu)),
    modelSet('Zc = 0.1 Zsun', COL.z01, xy(eu01.concat(euTail)), 6),
    modelSet('Zc = 0.3 Zsun', COL.z03, xy(eu03.concat(euTail)), 5),
    modelSet('Zc = 0.5 Zsun', COL.z05, xy(eu05.concat(euTail)), 4),
    modelSet('Zc = 0.7 Zsun', COL.z07, xy(eu07.concat(euTail)), 3),
    modelSet('Zc = Zsun',     COL.z10, xy(eu10), 2),
    modelSet('Zc >> Zsun',    COL.zinf, xy(euInf), 1),
  ]},
  options: baseOpts({top:51, right:30, left:0, bottom:0}, scales(-0.5, 2.5, euTicks, '[Eu/Fe]', 80, 3)),
  plugins: [innerTicks]
});
</script>
</body>
</html>
